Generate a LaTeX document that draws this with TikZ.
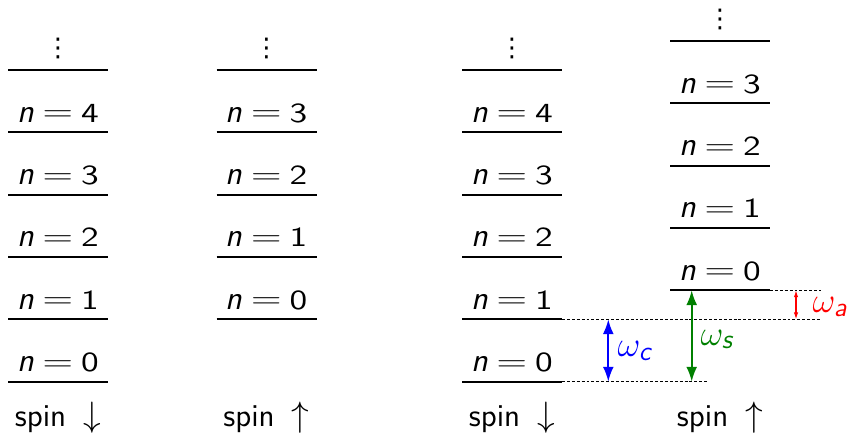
\documentclass[tikz,border=0pt]{standalone}
\usepackage{graphicx}
\usepackage{fontspec}
\newfontfamily\dejavu{DejaVu Sans}
\usetikzlibrary{arrows.meta}
\newcommand{\lev}[1]{{\fontsize{13.5}{16}\selectfont\textit{n}}\hspace{3.4pt}\raisebox{0.6pt}{\scalebox{1.48}[1]{$=$}}\hspace{3.2pt}\scalebox{1.3}[1]{\fontsize{11.3}{13}\selectfont#1}}
\newcommand{\om}[1]{{\fontsize{15}{18}\selectfont$\omega$}\hspace{-0.6pt}\raisebox{-1.3pt}{\textit{#1}}}
\newcommand{\vdts}{{\dejavu\fontsize{10.5}{12}\selectfont ⋮}}
\newcommand{\spinlbl}[1]{{\fontsize{13}{15}\selectfont spin}\hspace{7pt}{\fontsize{13.5}{16}\selectfont$#1$}}
\begin{document}
\begin{tikzpicture}[x=0.408pt,y=-0.408pt,
  level/.style={line width=0.75pt},
  lbl/.style={anchor=base,inner sep=0pt,font=\sffamily\fontsize{11}{13}\selectfont},
  ext/.style={line width=0.4pt,dash pattern=on 1.2pt off 0.8pt},
  gapbig/.style={line width=0.75pt,{Latex[length=6pt,width=4.4pt]}-{Latex[length=6pt,width=4.4pt]}},
  gapsmall/.style={line width=0.45pt,{Latex[length=2.8pt,width=1.8pt]}-{Latex[length=2.8pt,width=1.8pt]}},
  wlbl/.style={anchor=base west,inner sep=0pt,font=\sffamily\fontsize{11}{13}\selectfont}]
\useasboundingbox (0,0) rectangle (849,434);
% column 1: spin down
\foreach \i in {0,...,5}{
  \coordinate (a\i L) at (8,{381.6-62.3*\i});
  \coordinate (a\i R) at (108,{381.6-62.3*\i});
  \draw[level] (a\i L) -- (a\i R);
}
\foreach \i in {0,...,4}{
  \node[lbl] (na\i) at (58,{381.6-62.3*\i-10}) {\lev{\i}};
}
\node[lbl] (da) at (58,57) {\vdts};
\node[lbl] (sa) at (58,426) {\spinlbl{\downarrow}};
% column 2: spin up
\foreach \i in {0,...,4}{
  \coordinate (b\i L) at (216.5,{319.3-62.3*\i});
  \coordinate (b\i R) at (316.5,{319.3-62.3*\i});
  \draw[level] (b\i L) -- (b\i R);
}
\foreach \i in {0,...,3}{
  \node[lbl] (nb\i) at (266.5,{319.3-62.3*\i-10}) {\lev{\i}};
}
\node[lbl] (db) at (266.5,57) {\vdts};
\node[lbl] (sb) at (266.5,426) {\spinlbl{\uparrow}};
% column 3: spin down
\foreach \i in {0,...,5}{
  \coordinate (c\i L) at (462,{381.6-62.3*\i});
  \coordinate (c\i R) at (562,{381.6-62.3*\i});
  \draw[level] (c\i L) -- (c\i R);
}
\foreach \i in {0,...,4}{
  \node[lbl] (nc\i) at (512,{381.6-62.3*\i-10}) {\lev{\i}};
}
\node[lbl] (dc) at (512,57) {\vdts};
\node[lbl] (sc) at (512,426) {\spinlbl{\downarrow}};
% column 4: spin up (shifted)
\foreach \i in {0,...,4}{
  \coordinate (d\i L) at (670,{290.3-62.3*\i});
  \coordinate (d\i R) at (770,{290.3-62.3*\i});
  \draw[level] (d\i L) -- (d\i R);
}
\foreach \i in {0,...,3}{
  \node[lbl] (nd\i) at (720,{290.3-62.3*\i-10}) {\lev{\i}};
}
\node[lbl] (dd) at (720,28) {\vdts};
\node[lbl] (sd) at (720,426) {\spinlbl{\uparrow}};
% dashed extensions
\coordinate (ea) at (821,0);
\coordinate (es) at (707,0);
\draw[ext] (c1R) -- (c1R -| ea);
\draw[ext] (d0R) -- (d0R -| ea);
\draw[ext] (c0R) -- (c0R -| es);
% gaps
\coordinate (wc) at (608.3,0);
\coordinate (ws) at (691.7,0);
\coordinate (wa) at (796,0);
\draw[gapbig,blue] (c1R -| wc) -- (c0R -| wc);
\draw[gapbig,green!50!black] (d0R -| ws) -- (c0R -| ws);
\draw[gapsmall,red] (d0R -| wa) -- (c1R -| wa);
\node[wlbl,blue] (lc) at (617,357) {\om{c}};
\node[wlbl,green!50!black] (ls) at (700,345) {\om{s}};
\node[wlbl,red] (la) at (812,313) {\om{a}};
\end{tikzpicture}
\end{document}
